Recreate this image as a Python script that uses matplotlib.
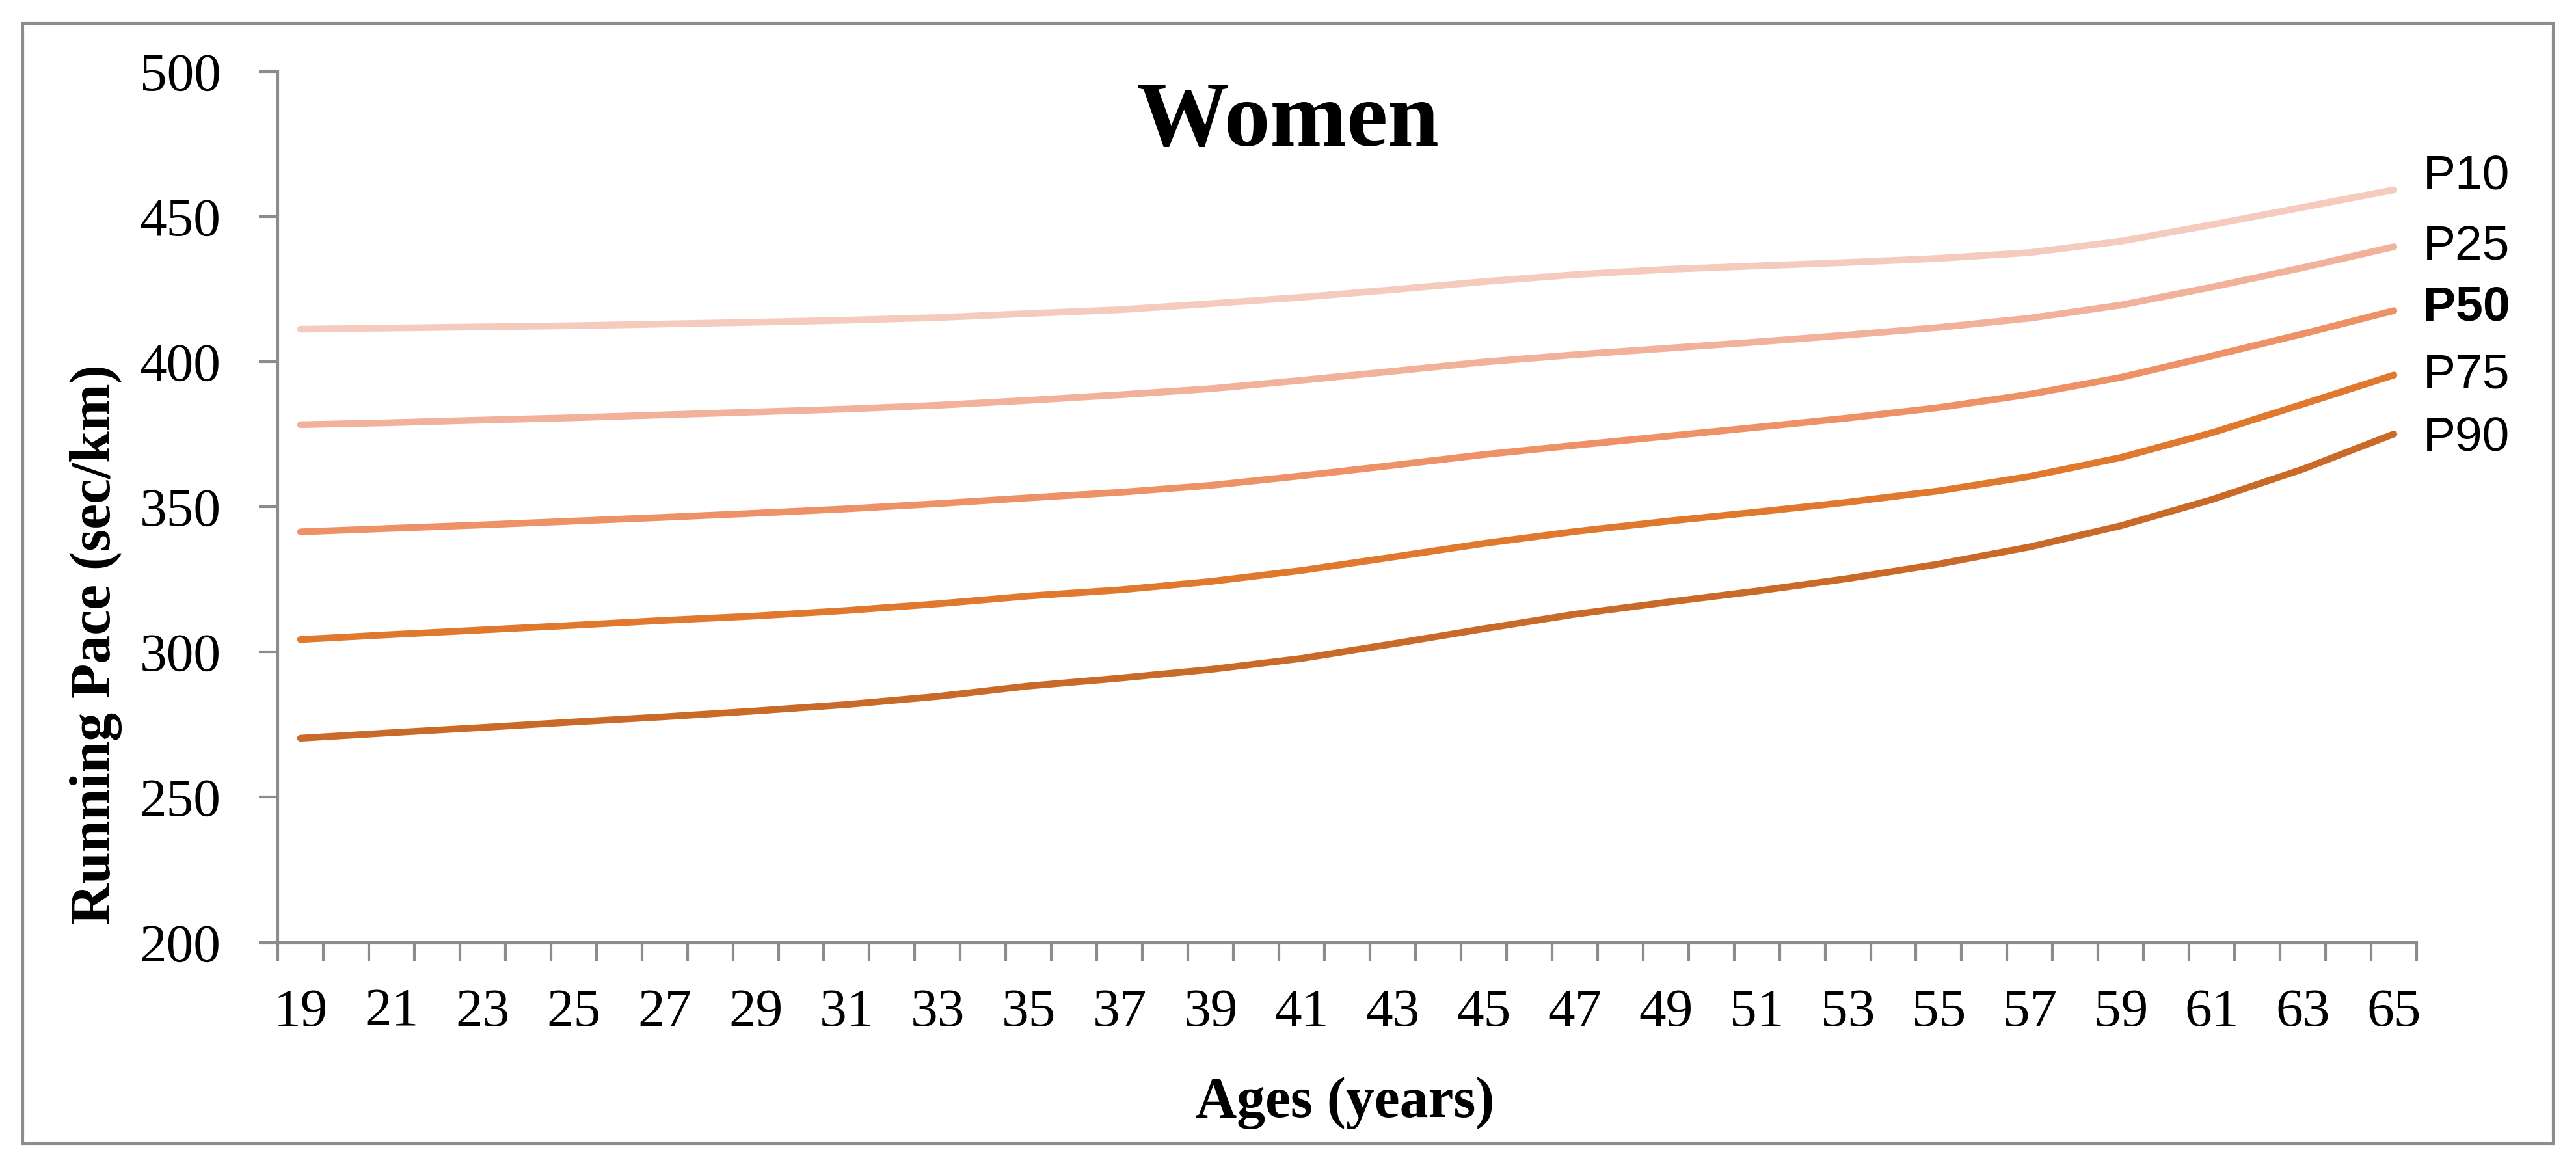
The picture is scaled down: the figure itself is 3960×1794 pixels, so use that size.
import matplotlib
matplotlib.use("Agg")
import matplotlib.pyplot as plt
from matplotlib.patches import Rectangle
from matplotlib.ticker import MultipleLocator

# =========================================
# DATA (odd ages only)
# =========================================
ages = list(range(19, 66, 2))

p10 = [411.2, 411.6, 412.0, 412.4, 413.0, 413.6, 414.3, 415.2, 416.6, 417.9, 420.0, 422.2,
       424.8, 427.6, 430.0, 431.8, 433.0, 434.2, 435.6, 437.6, 441.5, 447.2, 453.2, 459.2]
p25 = [378.3, 379.0, 379.9, 380.7, 381.7, 382.7, 383.7, 385.0, 386.7, 388.6, 390.7, 393.6,
       396.7, 399.9, 402.4, 404.6, 406.8, 409.2, 411.8, 415.0, 419.5, 425.7, 432.4, 439.6]
p50 = [341.4, 342.6, 343.8, 345.1, 346.4, 347.8, 349.3, 351.1, 353.1, 355.0, 357.4, 360.7,
       364.3, 368.0, 371.2, 374.3, 377.4, 380.6, 384.2, 388.8, 394.6, 402.0, 409.6, 417.6]
p75 = [304.3, 306.0, 307.6, 309.2, 310.9, 312.4, 314.3, 316.6, 319.3, 321.4, 324.3, 328.1,
       332.7, 337.4, 341.5, 345.0, 348.2, 351.6, 355.5, 360.5, 367.0, 375.5, 385.4, 395.4]
p90 = [270.3, 272.2, 274.0, 275.9, 277.7, 279.7, 281.9, 284.7, 288.3, 291.0, 294.0, 297.8,
       302.8, 308.0, 313.0, 317.1, 321.0, 325.3, 330.3, 336.2, 343.5, 352.5, 363.0, 375.1]

names = ['P10', 'P25', 'P50', 'P75', 'P90']
series = [p10, p25, p50, p75, p90]
colors = ['#F5CBBE', '#F2B19A', '#EE9166', '#E0782E', '#C96A28']
label_dy = [4.8, 0, 1, 0, -1.6]   # points

serif = ['Liberation Serif', 'DejaVu Serif']
sans = ['Liberation Sans', 'DejaVu Sans']
gray = '#8c8c8c'

# =========================================
# PLOT
# =========================================
W, H = 3960, 1794
fig = plt.figure(figsize=(13.2, 5.98), dpi=300)
ax = fig.add_axes([427 / W, 1 - 1448.6 / H, (3715 - 427) / W, (1448.6 - 109.8) / H])

for name, vals, c, dy in zip(names, series, colors, label_dy):
    ax.plot(ages, vals, color=c, lw=2.5, solid_capstyle='round', solid_joinstyle='round')
    ax.annotate(name, xy=(ages[-1], vals[-1]), xytext=(10.8, dy), textcoords='offset points',
                ha='left', va='center', fontsize=18, family=sans,
                fontweight='bold' if name == 'P50' else 'normal')

ax.set_xlim(18.5, 65.5)
ax.set_ylim(200, 500)
ax.set_xticks(ages)
ax.set_xticklabels([str(a) for a in ages])
ax.xaxis.set_minor_locator(MultipleLocator(1, offset=0.5))
ax.yaxis.set_major_locator(MultipleLocator(50))

for s in ['top', 'right']:
    ax.spines[s].set_visible(False)
for s in ['left', 'bottom']:
    ax.spines[s].set_color(gray)
    ax.spines[s].set_linewidth(1.0)

ax.tick_params(axis='x', which='major', length=0, pad=17, labelsize=20)
ax.tick_params(axis='x', which='minor', length=7, width=1.0, color=gray, direction='out')
ax.tick_params(axis='y', which='major', length=7, width=1.0, color=gray, pad=14, labelsize=20)
for lab in ax.get_xticklabels() + ax.get_yticklabels():
    lab.set_family(serif)

fig.text(0.5, 1 - 190 / H, 'Women', ha='center', va='center', fontsize=34,
         fontweight='bold', family=serif)
fig.text(148 / W, 1 - 991 / H, 'Running Pace (sec/km)', rotation=90, ha='center', va='center',
         fontsize=21, fontweight='bold', family=serif)
fig.text(2068 / W, 1 - 1695 / H, 'Ages (years)', ha='center', va='center',
         fontsize=21, fontweight='bold', family=serif)

fig.patches.append(Rectangle((35 / W, 1 - 1758 / H), (3925 - 35) / W, (1758 - 36) / H,
                             transform=fig.transFigure, fill=False, edgecolor=gray, lw=1.0))

fig.savefig('out.png', dpi=300, facecolor='white')
